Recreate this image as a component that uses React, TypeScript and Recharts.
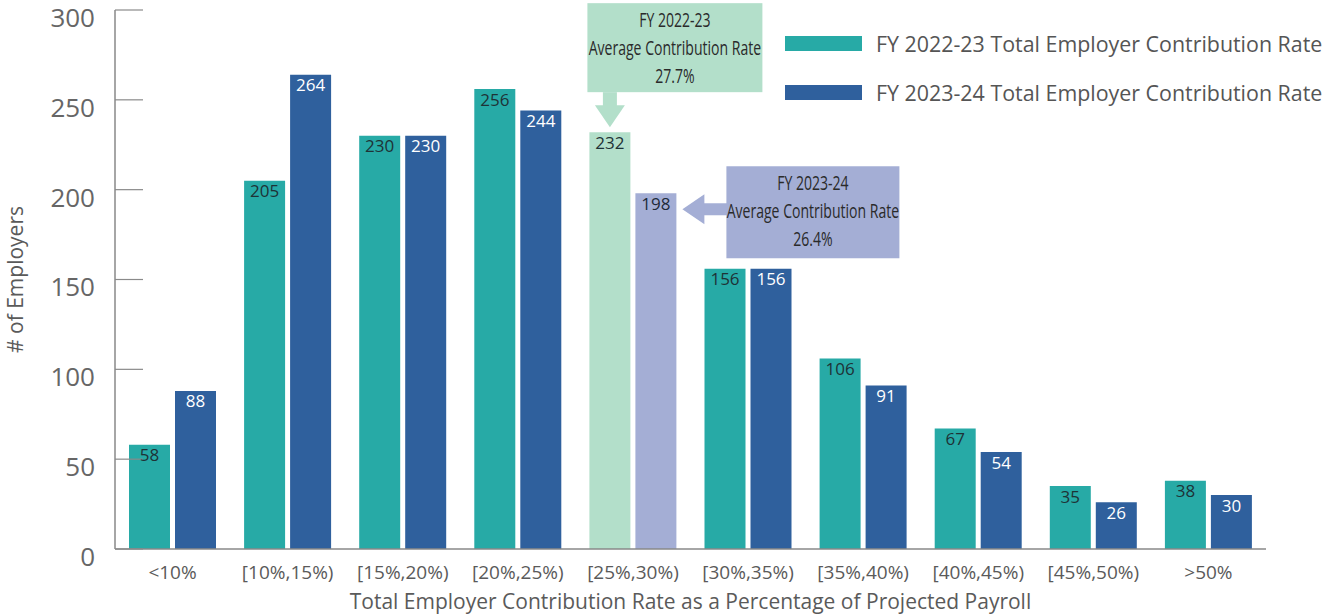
import { Bar, BarChart, Cell, LabelList, Legend, XAxis, YAxis } from "recharts";

const categories = [
  "<10%",
  "[10%,15%)",
  "[15%,20%)",
  "[20%,25%)",
  "[25%,30%)",
  "[30%,35%)",
  "[35%,40%)",
  "[40%,45%)",
  "[45%,50%)",
  ">50%",
];
const fy2223 = [58, 205, 230, 256, 232, 156, 106, 67, 35, 38];
const fy2324 = [88, 264, 230, 244, 198, 156, 91, 54, 26, 30];
const yTicks = [0, 50, 100, 150, 200, 250, 300];
const highlightIndex = 4;
const avgRate2223 = "27.7%";
const avgRate2324 = "26.4%";

const TEAL = "#27aaa6";
const BLUE = "#2f609d";
const LIGHT_GREEN = "#b3dfca";
const LIGHT_PURPLE = "#a4aed5";
const FONT = "'Open Sans', 'Noto Sans', sans-serif";

const data = categories.map((c, i) => ({ category: c, fy2223: fy2223[i], fy2324: fy2324[i] }));

function YTick(props: any) {
  const { x, y, payload } = props;
  return (
    <g>
      <line x1={x} x2={x + 28} y1={y} y2={y} stroke="#8a8a8a" strokeWidth={1.2} />
      <text x={x - 20} y={y + 10} textAnchor="end" dominantBaseline="middle" fill="#666" fontSize={26} fontFamily={FONT}>
        {payload.value}
      </text>
    </g>
  );
}

// condensed look: squeeze Open Sans horizontally
function CalloutText({ cx, top, lines }: { cx: number; top: number; lines: string[] }) {
  return (
    <g transform={`translate(${cx},0) scale(0.72,1)`}>
      <text textAnchor="middle" fill="#2a2a2a" fontSize={19.5} fontFamily={FONT}>
        {lines.map((l, i) => (
          <tspan key={i} x={0} y={top + 24 + i * 28}>
            {l}
          </tspan>
        ))}
      </text>
    </g>
  );
}

function tealLabel(props: any) {
  const { x, y, width, value, index } = props;
  const label = (
    <text x={x + width / 2} y={y + 12} textAnchor="middle" dominantBaseline="middle" fill="#1e3236" fontSize={17} fontFamily={FONT}>
      {value}
    </text>
  );
  if (index !== highlightIndex) return label;
  const boxLeft = x - 2;
  const boxBottom = y - 40;
  const boxTop = boxBottom - 89;
  const cx = x + width / 2;
  return (
    <g>
      <rect x={boxLeft} y={boxTop} width={175} height={89} fill={LIGHT_GREEN} />
      <rect x={cx - 7} y={boxBottom} width={14} height={15} fill={LIGHT_GREEN} />
      <polygon points={`${cx - 15},${boxBottom + 13} ${cx + 15},${boxBottom + 13} ${cx},${y - 5}`} fill={LIGHT_GREEN} />
      <CalloutText cx={boxLeft + 87.5} top={boxTop} lines={["FY 2022-23", "Average Contribution Rate", avgRate2223]} />
      {label}
    </g>
  );
}

function blueLabel(props: any) {
  const { x, y, width, value, index } = props;
  const hl = index === highlightIndex;
  const label = (
    <text x={x + width / 2} y={y + 12} textAnchor="middle" dominantBaseline="middle" fill={hl ? "#1e2a3a" : "#fff"} fontSize={17} fontFamily={FONT}>
      {value}
    </text>
  );
  if (!hl) return label;
  const right = x + width;
  const ay = y + 16;
  const boxLeft = right + 50;
  const boxTop = y - 27;
  return (
    <g>
      <rect x={boxLeft} y={boxTop} width={173} height={92} fill={LIGHT_PURPLE} />
      <rect x={right + 26} y={ay - 6} width={26} height={12} fill={LIGHT_PURPLE} />
      <polygon points={`${right + 6},${ay} ${right + 28},${ay - 15} ${right + 28},${ay + 15}`} fill={LIGHT_PURPLE} />
      <CalloutText cx={boxLeft + 86.5} top={boxTop} lines={["FY 2023-24", "Average Contribution Rate", avgRate2324]} />
      {label}
    </g>
  );
}

function LegendBox() {
  const items = [
    { color: TEAL, text: "FY 2022-23 Total Employer Contribution Rate" },
    { color: BLUE, text: "FY 2023-24 Total Employer Contribution Rate" },
  ];
  return (
    <div style={{ fontFamily: FONT }}>
      {items.map((it) => (
        <div key={it.text} style={{ display: "flex", alignItems: "center", height: 49 }}>
          <div style={{ width: 77, height: 15, background: it.color, marginRight: 14 }} />
          <span style={{ fontSize: 21.4, color: "#555", whiteSpace: "nowrap" }}>{it.text}</span>
        </div>
      ))}
    </div>
  );
}

function YTitle(props: any) {
  const { viewBox } = props;
  const cy = viewBox.y + viewBox.height / 2;
  return (
    <text x={17} y={cy} transform={`rotate(-90, 17, ${cy})`} textAnchor="middle" dominantBaseline="middle" fill="#5a5a5a" fontSize={21} fontFamily={FONT}>
      # of Employers
    </text>
  );
}

export default function App() {
  return (
    <div style={{ position: "absolute", left: 0, top: 0, background: "#fff" }}>
      <BarChart
        width={1324}
        height={616}
        data={data}
        margin={{ top: 10, right: 58, bottom: 0, left: 0 }}
        barSize={41}
        barGap={5}
      >
        <XAxis
          dataKey="category"
          height={67}
          axisLine={{ stroke: "#888", strokeWidth: 1.5 }}
          tickLine={false}
          tickSize={0}
          tickMargin={17}
          interval={0}
          tick={{ fill: "#5a5a5a", fontSize: 19, fontFamily: FONT }}
          label={{
            value: "Total Employer Contribution Rate as a Percentage of Projected Payroll",
            position: "insideBottom",
            offset: 7,
            fill: "#5a5a5a",
            fontSize: 21,
            fontFamily: FONT,
          }}
        />
        <YAxis
          width={115}
          domain={[0, 300]}
          ticks={yTicks}
          interval={0}
          axisLine={{ stroke: "#888", strokeWidth: 1.5 }}
          tickLine={false}
          tickSize={0}
          tickMargin={0}
          tick={<YTick />}
          label={<YTitle />}
        />
        <Legend
          layout="vertical"
          align="center"
          verticalAlign="middle"
          content={<LegendBox />}
          wrapperStyle={{ left: 785, top: 19, width: "auto" }}
        />
        <Bar dataKey="fy2223" fill={TEAL} isAnimationActive={false}>
          {data.map((_, i) => (
            <Cell key={i} fill={i === highlightIndex ? LIGHT_GREEN : TEAL} />
          ))}
          <LabelList dataKey="fy2223" content={tealLabel} />
        </Bar>
        <Bar dataKey="fy2324" fill={BLUE} isAnimationActive={false}>
          {data.map((_, i) => (
            <Cell key={i} fill={i === highlightIndex ? LIGHT_PURPLE : BLUE} />
          ))}
          <LabelList dataKey="fy2324" content={blueLabel} />
        </Bar>
      </BarChart>
    </div>
  );
}
